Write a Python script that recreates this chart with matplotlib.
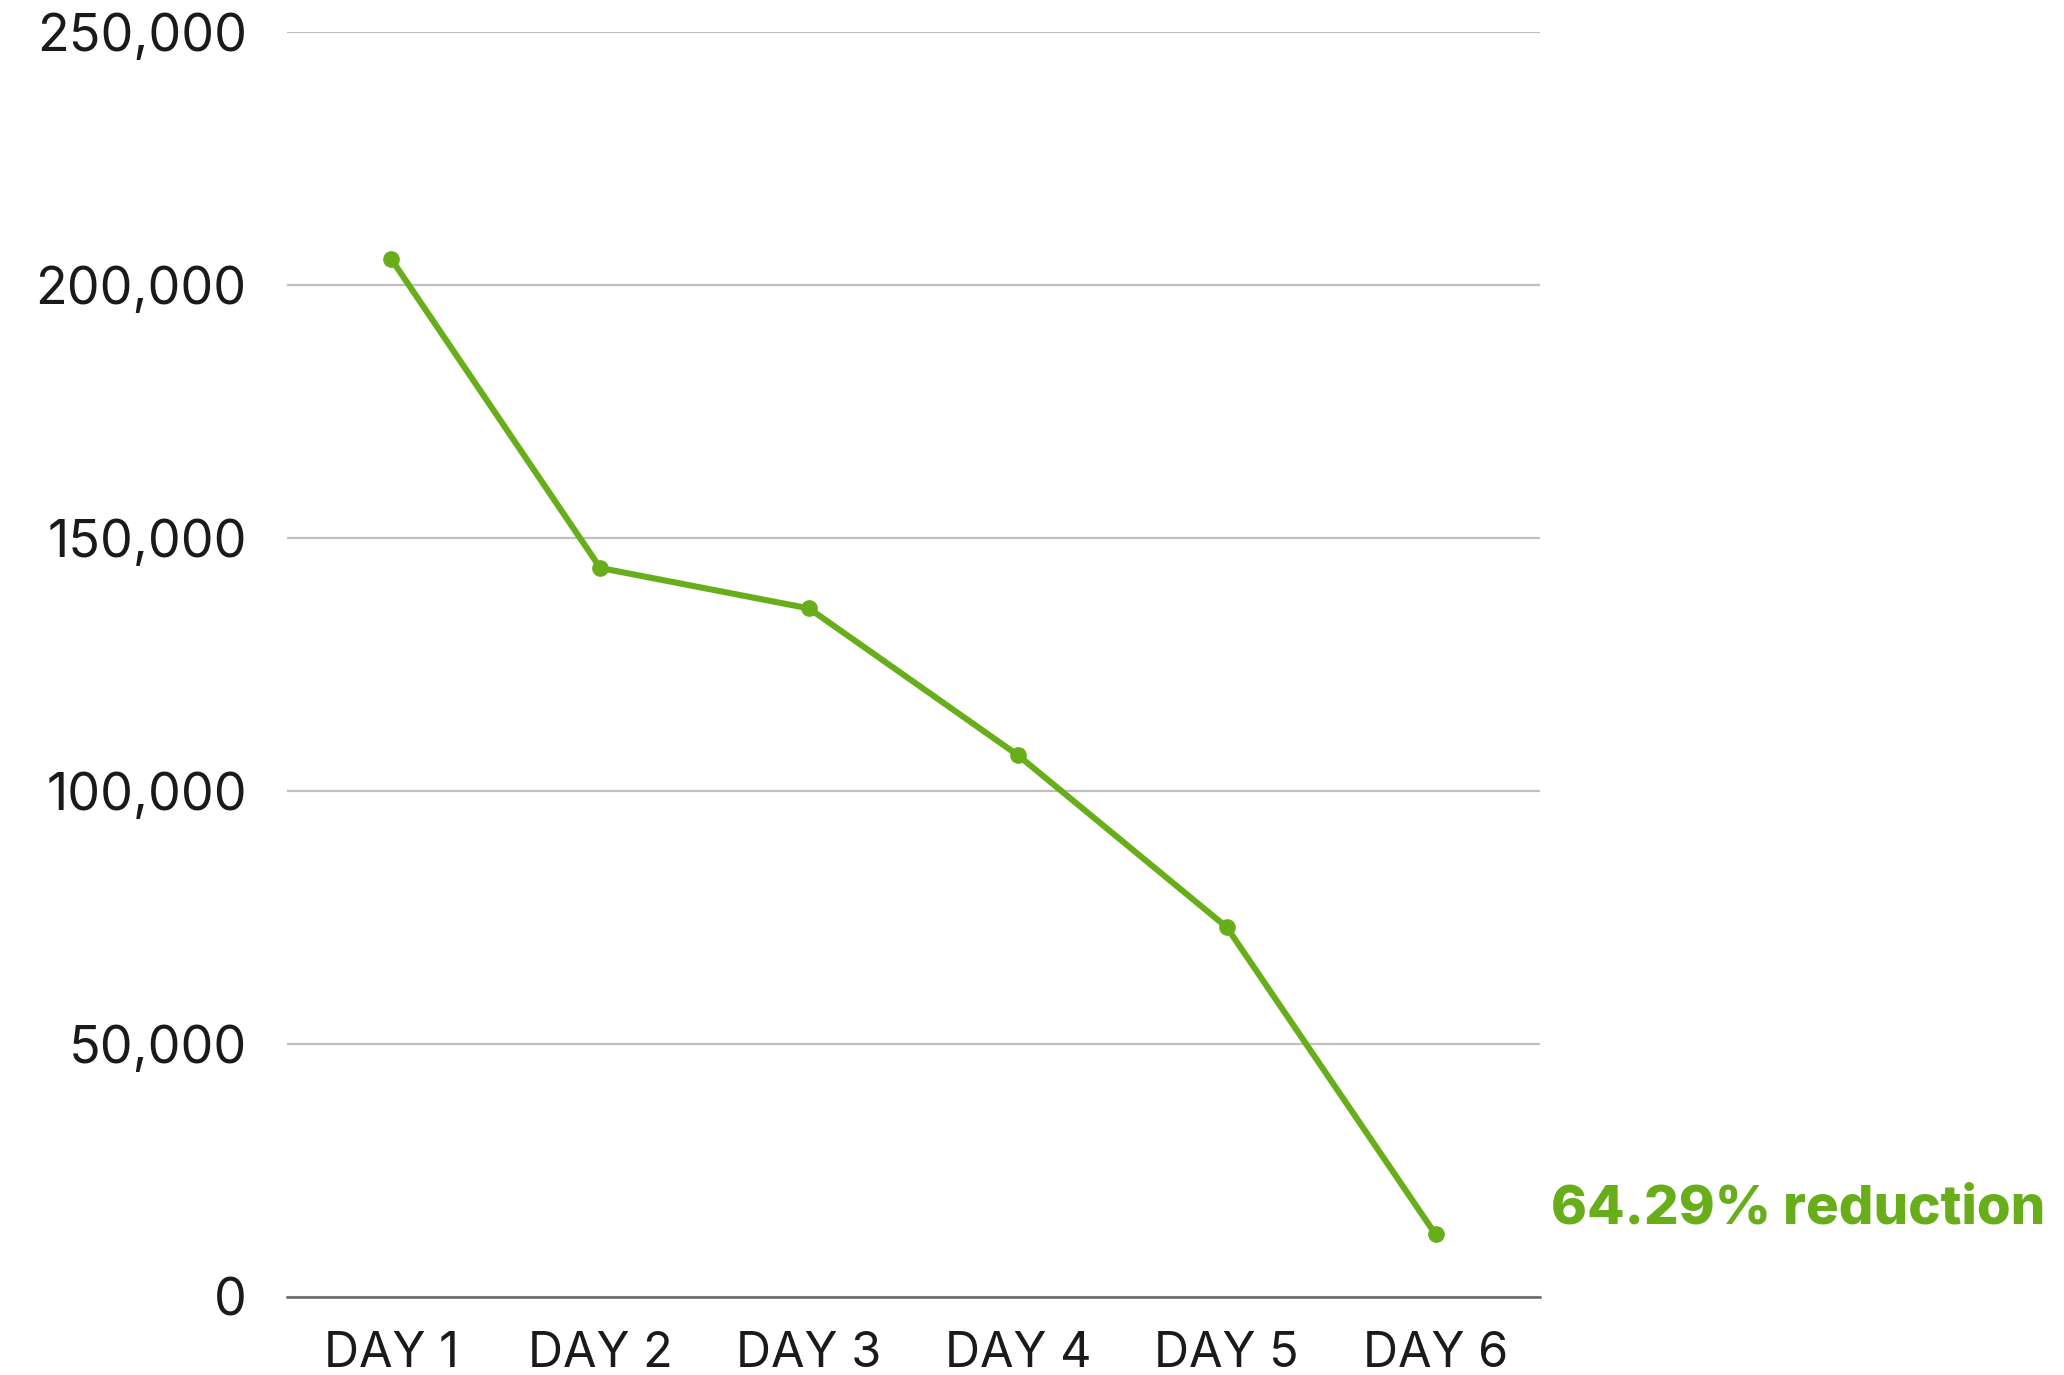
import matplotlib
matplotlib.use("Agg")
import matplotlib.pyplot as plt
from matplotlib.ticker import FuncFormatter

days = ["DAY 1", "DAY 2", "DAY 3", "DAY 4", "DAY 5", "DAY 6"]
values = [205000, 144000, 136000, 107000, 73000, 12300]
yticks = [0, 50000, 100000, 150000, 200000, 250000]
annotation = "64.29% reduction"

GREEN = "#68AE1A"
W, H, DPI = 2064, 1375, 100

plt.rcParams["font.family"] = ["Inter", "DejaVu Sans"]
fig = plt.figure(figsize=(W / DPI, H / DPI), dpi=DPI)
ax = fig.add_axes([287 / W, 1 - 1296.6 / H, (1540 - 287) / W, (1296.6 - 31.6) / H])

x = list(range(len(days)))
ax.plot(x, values, color=GREEN, lw=4.4, marker="o", ms=11, zorder=3,
        solid_capstyle="round")

ax.set_xlim(-0.5, len(days) - 0.5)
ax.set_ylim(0, 250000)
ax.set_yticks(yticks)
ax.yaxis.set_major_formatter(FuncFormatter(lambda v, p: f"{int(v):,}"))
ax.set_xticks(x)
ax.set_xticklabels(days)

ax.grid(axis="y", color="#BFBFBF", lw=1.6, zorder=0)
ax.grid(axis="x", visible=False)
for s in ["top", "right", "left"]:
    ax.spines[s].set_visible(False)
ax.spines["bottom"].set_color("#666666")
ax.spines["bottom"].set_linewidth(1.8)
ax.spines["bottom"].set_zorder(4)

ax.tick_params(axis="y", length=0, pad=29, labelsize=37.5, labelcolor="#1a1a1a")
ax.tick_params(axis="x", length=0, pad=25, labelsize=35, labelcolor="#1a1a1a")

fig.text(1551 / W, 1 - 1224 / H, annotation, color=GREEN, fontsize=39.3,
         fontweight="heavy", ha="left", va="baseline")

fig.savefig("out.png", dpi=DPI, facecolor="white")
